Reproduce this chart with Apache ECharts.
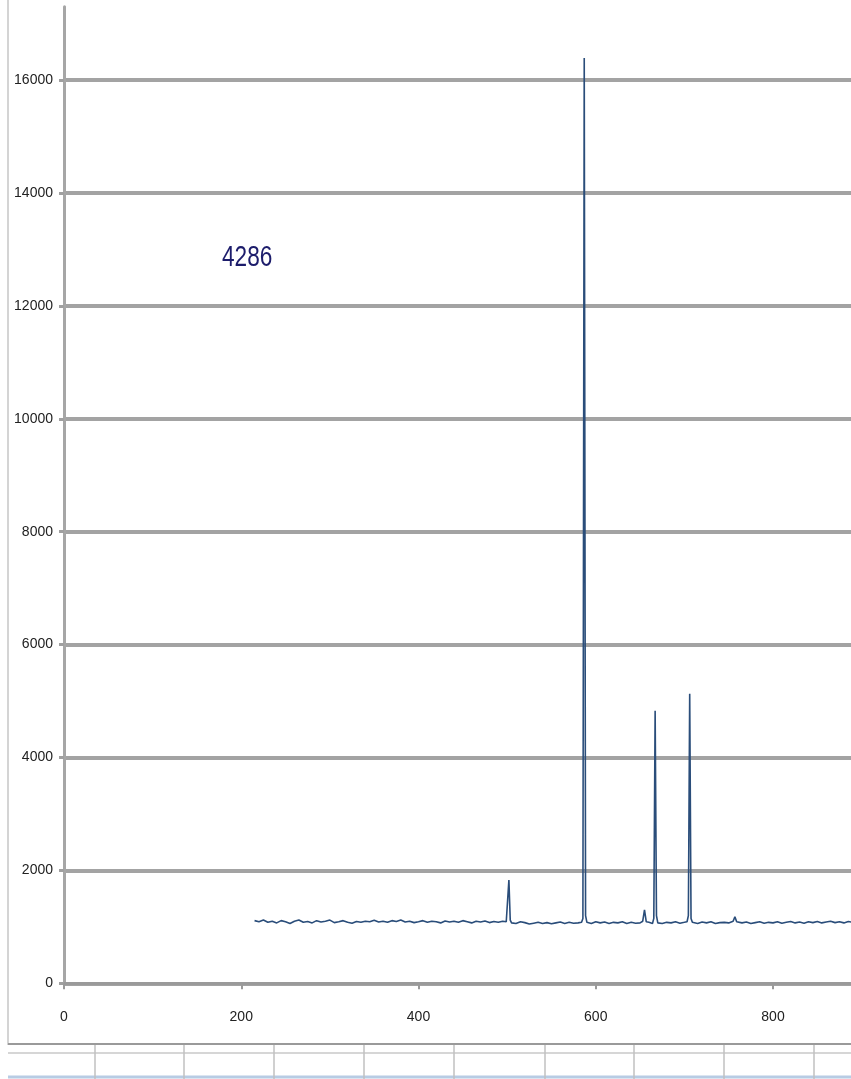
<!DOCTYPE html>
<html>
<head>
<meta charset="utf-8">
<script src="https://cdn.jsdelivr.net/npm/echarts@6/dist/echarts.min.js"></script>
<style>
html,body{margin:0;padding:0;background:#fff;}
#chart{width:851px;height:1079px;}
</style>
</head>
<body>
<div id="chart"></div>
<script>
// wavelength (x) and intensity (y)
var wavelength = [
215,220,225,230,235,240,245,250,255,260,265,270,275,280,285,290,295,300,305,310,
315,320,325,330,335,340,345,350,355,360,365,370,375,380,385,390,395,400,405,410,
415,420,425,430,435,440,445,450,455,460,465,470,475,480,485,490,495,499,500.5,502,
503.5,505,510,515,520,525,530,535,540,545,550,555,560,565,570,575,580,584,585.5,587,
588.5,590,595,600,605,610,615,620,625,630,635,640,645,650,653,655,657,660,664,665.5,
667,668.5,670,675,680,685,690,695,700,703,704.5,706,707.5,709,715,720,725,730,735,740,
745,750,755,757,759,765,770,775,780,785,790,795,800,805,810,815,820,825,830,835,
840,845,850,855,860,865,870,875,880,885,890
];
var intensity = [
1110,1090,1120,1080,1100,1070,1110,1090,1060,1100,1120,1080,1095,1070,1110,1085,1100,1120,1075,1090,
1110,1080,1065,1095,1080,1100,1090,1115,1085,1100,1080,1110,1095,1120,1085,1100,1075,1090,1110,1080,
1100,1090,1070,1105,1085,1100,1080,1110,1090,1070,1100,1085,1105,1075,1095,1080,1100,1090,1100,1830,
1120,1070,1060,1090,1075,1050,1065,1080,1060,1075,1055,1070,1085,1060,1080,1065,1070,1080,1150,16390,
1200,1080,1060,1090,1070,1085,1060,1080,1070,1090,1060,1080,1065,1070,1100,1300,1090,1080,1060,1150,
4830,1200,1070,1060,1080,1070,1090,1065,1080,1090,1200,5130,1150,1080,1060,1085,1070,1090,1060,1075,
1080,1070,1100,1180,1090,1070,1085,1060,1075,1090,1065,1080,1070,1090,1065,1080,1095,1070,1085,1065,
1090,1075,1095,1070,1085,1100,1075,1090,1070,1095,1080
];
var yTicks = [0,2000,4000,6000,8000,10000,12000,14000,16000];
var xTicks = [0,200,400,600,800];
var annotation = '4286';

var points = wavelength.map(function(x,i){return [x,intensity[i]];});
var font = "'Liberation Sans',Arial,sans-serif";

var chart = echarts.init(document.getElementById('chart'));
var cellXs = [95,184,274,364,454,545,634,724,814];
var graphics = [
  {type:'line',shape:{x1:8,y1:0,x2:8,y2:1045},style:{stroke:'#d4d4d4',lineWidth:2},z:1},
  {type:'line',shape:{x1:8,y1:1044,x2:851,y2:1044},style:{stroke:'#9a9a9a',lineWidth:2},z:1},
  {type:'line',shape:{x1:8,y1:1053,x2:851,y2:1053},style:{stroke:'#c8c8c8',lineWidth:1.5},z:1},
  {type:'line',shape:{x1:8,y1:1077,x2:851,y2:1077},style:{stroke:'#b8cce4',lineWidth:3},z:1},
  {type:'text',x:222,y:243,scaleX:0.78,scaleY:1,style:{text:annotation,font:"29px 'Liberation Sans',sans-serif",fill:'#1c1c6b'},z:5}
];
cellXs.forEach(function(x){
  graphics.push({type:'line',shape:{x1:x,y1:1045,x2:x,y2:1079},style:{stroke:'#c0c0c0',lineWidth:1.5},z:1});
});

function plain(v){return String(v);}

chart.setOption({
  animation:false,
  backgroundColor:'#ffffff',
  grid:{left:64,right:0,top:6.7,bottom:95.7,containLabel:false},
  xAxis:{
    type:'value',min:0,max:888,interval:200,
    axisLine:{show:true,lineStyle:{color:'#9a9a9a',width:3}},
    axisTick:{show:true,length:6,customValues:xTicks,lineStyle:{color:'#9a9a9a',width:2}},
    axisLabel:{margin:27,fontSize:14,fontFamily:font,color:'#222',customValues:xTicks,formatter:plain},
    splitLine:{show:false}
  },
  yAxis:{
    type:'value',min:0,max:17300,interval:2000,
    axisLine:{show:true,lineStyle:{color:'#a6a6a6',width:3}},
    axisTick:{show:true,length:5,customValues:yTicks,lineStyle:{color:'#a0a0a0',width:3}},
    axisLabel:{margin:11,fontSize:14,fontFamily:font,color:'#222',customValues:yTicks,formatter:plain},
    splitLine:{show:true,lineStyle:{color:'#a3a3a3',width:4}}
  },
  series:[{
    type:'line',
    data:points,
    showSymbol:false,
    lineStyle:{color:'#2a4d7a',width:1.6},
    z:3
  }],
  graphic:graphics
});
</script>
</body>
</html>
